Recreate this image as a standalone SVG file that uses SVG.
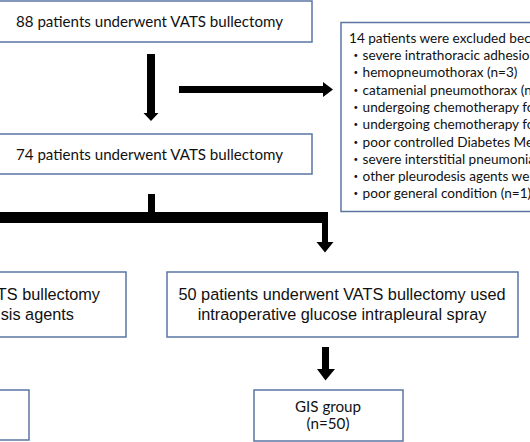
<svg xmlns="http://www.w3.org/2000/svg" width="530" height="442" viewBox="0 0 530 442">
<style>
.box{fill:#ffffff;stroke:#5a76a2;stroke-width:1.5}
.cal{font-family:Lato,"Noto Sans CJK JP",sans-serif;fill:#111}
.big{font-size:15.2px}
.sm{font-size:13.6px}
.ar{font-family:"Liberation Sans",Arial,sans-serif;font-size:16.3px;fill:#111}
.arrow{fill:#000}
</style>
<rect width="530" height="442" fill="#ffffff"/>
<g id="connectors">
<polygon class="arrow" points="147,54 155,54 155,113 158.5,113 151,121 143.5,113 147,113"/>
<polygon class="arrow" points="179,86 323,86 323,82 333,89.5 323,97 323,93 179,93"/>
<polygon class="arrow" points="148,194 155,194 155,212 328,212 328,242 333.5,242 325,252.5 316.5,242 322,242 322,223 -5,223 -5,212 148,212"/>
<polygon class="arrow" points="322,347 329,347 329,369 335,369 325.5,380.5 317,369 322,369"/>
</g>
<g id="n88">
<rect class="box" x="-13" y="1" width="325" height="41"/>
<text class="cal big" x="16" y="27" textLength="267" lengthAdjust="spacingAndGlyphs">88 patients underwent VATS bullectomy</text>
</g>
<g id="n74">
<rect class="box" x="-13" y="134" width="325" height="40"/>
<text class="cal big" x="16" y="160" textLength="267" lengthAdjust="spacingAndGlyphs">74 patients underwent VATS bullectomy</text>
</g>
<g id="excluded">
<rect class="box" x="341" y="22.5" width="220" height="189"/>
<text class="cal sm" x="349" y="43">14 patients were excluded beca</text>
<text class="cal sm" x="349" y="60">・severe intrathoracic adhesio</text>
<text class="cal sm" x="349" y="77">・hemopneumothorax (n=3)</text>
<text class="cal sm" x="349" y="94.5">・catamenial pneumothorax (n</text>
<text class="cal sm" x="349" y="112">・undergoing chemotherapy fo</text>
<text class="cal sm" x="349" y="129">・undergoing chemotherapy fo</text>
<text class="cal sm" x="349" y="146.5">・poor controlled Diabetes Me</text>
<text class="cal sm" x="349" y="163.5">・severe interstitial pneumonia</text>
<text class="cal sm" x="349" y="181">・other pleurodesis agents we</text>
<text class="cal sm" x="349" y="198">・poor general condition (n=1)</text>
</g>
<g id="other-agents">
<rect class="box" x="-225" y="272" width="351" height="65"/>
<text class="ar" x="100" y="300" text-anchor="end">TS bullectomy</text>
<text class="ar" x="74" y="320" text-anchor="end">sis agents</text>
</g>
<g id="gis-spray">
<rect class="box" x="167" y="272" width="351" height="65"/>
<text class="ar" x="342" y="300" text-anchor="middle">50 patients underwent VATS bullectomy used</text>
<text class="ar" x="342" y="320" text-anchor="middle">intraoperative glucose intrapleural spray</text>
</g>
<g id="left-group">
<rect class="box" x="-120" y="390" width="149" height="50"/>
</g>
<g id="gis-group">
<rect class="box" x="254" y="390" width="149" height="51"/>
<text class="cal big" x="328" y="412" text-anchor="middle">GIS group</text>
<text class="cal big" x="328" y="429" text-anchor="middle">(n=50)</text>
</g>
</svg>
